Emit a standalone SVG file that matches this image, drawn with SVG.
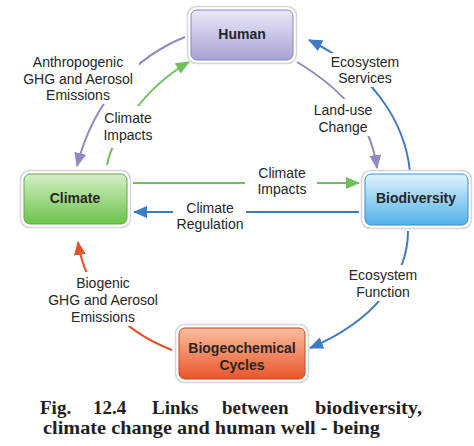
<svg xmlns="http://www.w3.org/2000/svg" width="474" height="446" viewBox="0 0 474 446">
<style>
.lbl{font-family:"Liberation Sans",Arial,sans-serif;font-size:14px;fill:#262626;text-anchor:middle}
.nl{font-family:"Liberation Sans",Arial,sans-serif;font-size:14px;font-weight:bold;fill:#262626;text-anchor:middle}
.halo{fill:#fff;stroke:#d6d6d6;stroke-width:1.5}
.ln{fill:none;stroke-width:2}
.cap{font-family:"Liberation Serif","Times New Roman",serif;font-size:19px;font-weight:bold;fill:#231f20}
</style>
<defs>
<linearGradient id="gH" x1="0" y1="0" x2="0" y2="1"><stop offset="0" stop-color="#ebe9f7"/><stop offset="1" stop-color="#a7a2d6"/></linearGradient>
<linearGradient id="gC" x1="0" y1="0" x2="0" y2="1"><stop offset="0" stop-color="#d3f0c6"/><stop offset="1" stop-color="#6cc24a"/></linearGradient>
<linearGradient id="gB" x1="0" y1="0" x2="0" y2="1"><stop offset="0" stop-color="#e0f3fc"/><stop offset="1" stop-color="#4eb2e8"/></linearGradient>
<linearGradient id="gG" x1="0" y1="0" x2="0" y2="1"><stop offset="0" stop-color="#fbbf9f"/><stop offset="1" stop-color="#e9552a"/></linearGradient>
<marker id="aP" markerUnits="userSpaceOnUse" markerWidth="14" markerHeight="12" refX="13" refY="6" orient="auto"><path d="M0,0 L14,6 L0,12 Z" fill="#8f8abf"/></marker>
<marker id="aG" markerUnits="userSpaceOnUse" markerWidth="14" markerHeight="12" refX="13" refY="6" orient="auto"><path d="M0,0 L14,6 L0,12 Z" fill="#6dbf5b"/></marker>
<marker id="aB" markerUnits="userSpaceOnUse" markerWidth="14" markerHeight="12" refX="13" refY="6" orient="auto"><path d="M0,0 L14,6 L0,12 Z" fill="#3d7cc2"/></marker>
<marker id="aR" markerUnits="userSpaceOnUse" markerWidth="14" markerHeight="12" refX="13" refY="6" orient="auto"><path d="M0,0 L14,6 L0,12 Z" fill="#e2532c"/></marker>
<mask id="m1" maskUnits="userSpaceOnUse" x="0" y="0" width="474" height="446"><rect width="474" height="446" fill="#fff"/><rect x="26" y="52" width="113" height="52" fill="#000"/></mask>
<mask id="m2" maskUnits="userSpaceOnUse" x="0" y="0" width="474" height="446"><rect width="474" height="446" fill="#fff"/><rect x="100" y="106" width="58" height="42" fill="#000"/></mask>
<mask id="m3" maskUnits="userSpaceOnUse" x="0" y="0" width="474" height="446"><rect width="474" height="446" fill="#fff"/><rect x="328" y="53" width="74" height="34" fill="#000"/></mask>
<mask id="m4" maskUnits="userSpaceOnUse" x="0" y="0" width="474" height="446"><rect width="474" height="446" fill="#fff"/><rect x="313" y="99" width="62" height="37" fill="#000"/></mask>
<mask id="m5" maskUnits="userSpaceOnUse" x="0" y="0" width="474" height="446"><rect width="474" height="446" fill="#fff"/><rect x="245" y="165" width="72" height="34" fill="#000"/></mask>
<mask id="m6" maskUnits="userSpaceOnUse" x="0" y="0" width="474" height="446"><rect width="474" height="446" fill="#fff"/><rect x="173" y="198" width="73" height="34" fill="#000"/></mask>
<mask id="m7" maskUnits="userSpaceOnUse" x="0" y="0" width="474" height="446"><rect width="474" height="446" fill="#fff"/><rect x="345" y="265" width="75" height="36" fill="#000"/></mask>
<mask id="m8" maskUnits="userSpaceOnUse" x="0" y="0" width="474" height="446"><rect width="474" height="446" fill="#fff"/><rect x="40" y="272" width="126" height="54" fill="#000"/></mask>
</defs>
<rect width="474" height="446" fill="#fff"/>
<g id="connectors">
<path class="ln" mask="url(#m1)" stroke="#8f8abf" marker-end="url(#aP)" d="M185,37 C140,55 95,95 77,166"/>
<path class="ln" mask="url(#m2)" stroke="#6dbf5b" marker-end="url(#aG)" d="M107,165 C112,140 140,90 189,62"/>
<path class="ln" mask="url(#m3)" stroke="#3d7cc2" marker-end="url(#aB)" d="M410,172 C405,120 370,70 309,40"/>
<path class="ln" mask="url(#m4)" stroke="#8f8abf" marker-end="url(#aP)" d="M297,62 C335,85 370,115 377,168"/>
<path class="ln" mask="url(#m5)" stroke="#6dbf5b" marker-end="url(#aG)" d="M133,183 L359,183"/>
<path class="ln" mask="url(#m6)" stroke="#3d7cc2" marker-end="url(#aB)" d="M359,212 L134,212"/>
<path class="ln" mask="url(#m7)" stroke="#3d7cc2" marker-end="url(#aB)" d="M408,231 C408,278 372,322 310,348"/>
<path class="ln" mask="url(#m8)" stroke="#e2532c" marker-end="url(#aR)" d="M172,350 C120,330 85,290 78,242"/>
<text class="lbl" x="78" y="67">Anthropogenic</text>
<text class="lbl" x="78" y="84">GHG and Aerosol</text>
<text class="lbl" x="78" y="100">Emissions</text>
<text class="lbl" x="128" y="123">Climate</text>
<text class="lbl" x="128" y="140">Impacts</text>
<text class="lbl" x="365" y="67">Ecosystem</text>
<text class="lbl" x="365" y="83">Services</text>
<text class="lbl" x="343" y="115">Land-use</text>
<text class="lbl" x="343" y="132">Change</text>
<text class="lbl" x="282" y="178">Climate</text>
<text class="lbl" x="282" y="194">Impacts</text>
<text class="lbl" x="210" y="213">Climate</text>
<text class="lbl" x="210" y="229">Regulation</text>
<text class="lbl" x="383" y="280">Ecosystem</text>
<text class="lbl" x="383" y="297">Function</text>
<text class="lbl" x="103" y="288">Biogenic</text>
<text class="lbl" x="103" y="305">GHG and Aerosol</text>
<text class="lbl" x="103" y="322">Emissions</text>
</g>
<g id="human">
<rect class="halo" x="187.5" y="6.5" width="109" height="57" rx="9"/>
<rect x="191" y="10" width="102" height="50" rx="6" fill="url(#gH)" stroke="#8a85c0" stroke-width="1"/>
<text class="nl" x="242" y="39">Human</text>
</g>
<g id="climate">
<rect class="halo" x="20.5" y="170.5" width="110" height="57" rx="9"/>
<rect x="24" y="174" width="103" height="50" rx="6" fill="url(#gC)" stroke="#5eaa43" stroke-width="1"/>
<text class="nl" x="75" y="203">Climate</text>
</g>
<g id="biodiversity">
<rect class="halo" x="361.5" y="170.5" width="110" height="58" rx="9"/>
<rect x="365" y="174" width="103" height="51" rx="6" fill="url(#gB)" stroke="#3c8fca" stroke-width="1"/>
<text class="nl" x="416" y="203">Biodiversity</text>
</g>
<g id="biogeochemical">
<rect class="halo" x="175.5" y="324.5" width="133" height="58" rx="9"/>
<rect x="179" y="328" width="126" height="51" rx="6" fill="url(#gG)" stroke="#cc4520" stroke-width="1"/>
<text class="nl" x="242" y="353">Biogeochemical</text>
<text class="nl" x="242" y="370">Cycles</text>
</g>
<g id="caption">
<text class="cap" x="40" y="414">Fig.</text>
<text class="cap" x="93" y="414">12.4</text>
<text class="cap" x="152" y="414">Links</text>
<text class="cap" x="222" y="414">between</text>
<text class="cap" x="315" y="414" textLength="107" lengthAdjust="spacingAndGlyphs">biodiversity,</text>
<text class="cap" x="43" y="434" textLength="337" lengthAdjust="spacingAndGlyphs">climate change and human well - being</text>
</g>
</svg>
